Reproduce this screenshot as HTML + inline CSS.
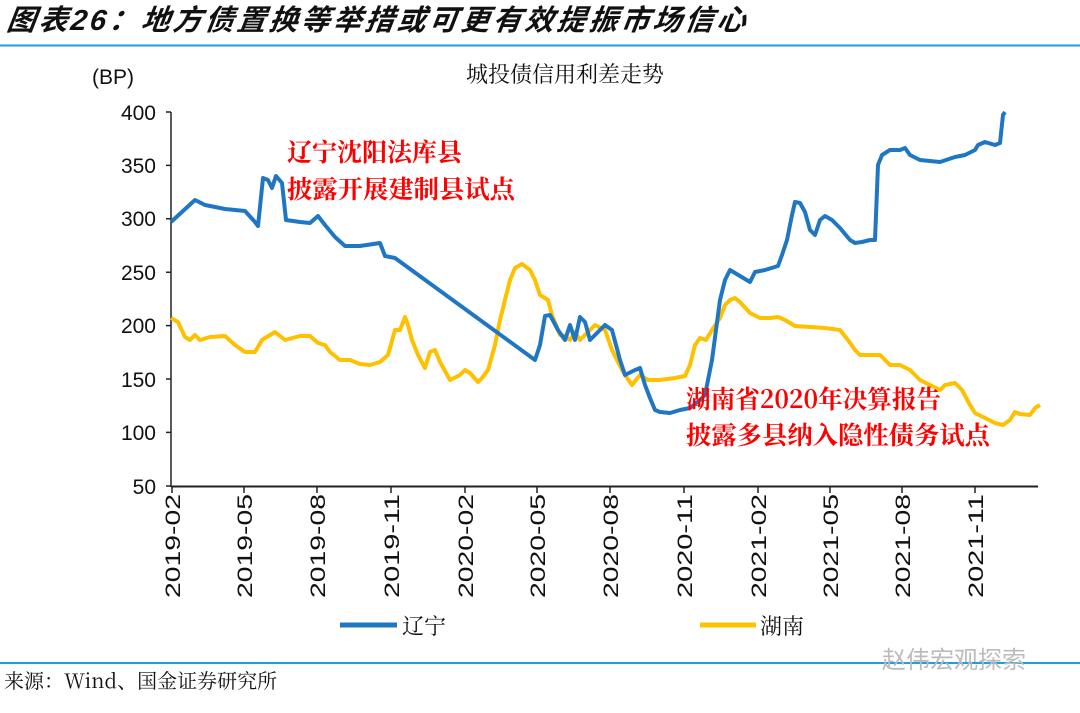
<!DOCTYPE html>
<html><head><meta charset="utf-8"><style>
body{margin:0;background:#fff;width:1080px;height:708px;overflow:hidden;}
svg text{font-family:"Liberation Sans","Noto Sans CJK SC",sans-serif;}
.s{font-family:"Noto Serif CJK SC","Liberation Serif",serif !important;}
</style></head><body>
<svg width="1080" height="708" viewBox="0 0 1080 708">
<text x="6" y="30" font-size="29" font-weight="bold" font-style="italic" fill="#111" letter-spacing="3" transform="skewX(-8) translate(4,0)">图表26：地方债置换等举措或可更有效提振市场信心</text>
<line x1="0" y1="45.5" x2="1080" y2="45.5" stroke="#1e9fdc" stroke-width="2"/>
<text x="92" y="84" font-size="21" fill="#111">(BP)</text>
<text class="s" x="565" y="82" font-size="22" fill="#111" text-anchor="middle">城投债信用利差走势</text>
<g font-size="21" fill="#111" text-anchor="end">
<text x="156" y="120">400</text><text x="156" y="173">350</text><text x="156" y="226">300</text><text x="156" y="280">250</text><text x="156" y="333">200</text><text x="156" y="387">150</text><text x="156" y="440">100</text><text x="156" y="494">50</text>
</g>
<g stroke="#222" stroke-width="1.5">
<line x1="171" y1="112" x2="171" y2="487"/>
<line x1="171" y1="486.5" x2="1038" y2="486.5" stroke-width="2"/>
<path d="M166 112H171M166 165.4H171M166 218.8H171M166 272.2H171M166 325.6H171M166 379H171M166 432.4H171M166 486H171"/>
<path d="M172 487v6M244 487v6M317 487v6M391 487v6M465 487v6M537 487v6M610 487v6M684 487v6M758 487v6M830 487v6M902 487v6M975 487v6"/>
</g>
<g font-size="21" fill="#111">
<text transform="translate(180,598) rotate(-90)" textLength="104" lengthAdjust="spacingAndGlyphs">2019-02</text>
<text transform="translate(252,598) rotate(-90)" textLength="104" lengthAdjust="spacingAndGlyphs">2019-05</text>
<text transform="translate(325,598) rotate(-90)" textLength="104" lengthAdjust="spacingAndGlyphs">2019-08</text>
<text transform="translate(399,598) rotate(-90)" textLength="104" lengthAdjust="spacingAndGlyphs">2019-11</text>
<text transform="translate(473,598) rotate(-90)" textLength="104" lengthAdjust="spacingAndGlyphs">2020-02</text>
<text transform="translate(545,598) rotate(-90)" textLength="104" lengthAdjust="spacingAndGlyphs">2020-05</text>
<text transform="translate(618,598) rotate(-90)" textLength="104" lengthAdjust="spacingAndGlyphs">2020-08</text>
<text transform="translate(692,598) rotate(-90)" textLength="104" lengthAdjust="spacingAndGlyphs">2020-11</text>
<text transform="translate(766,598) rotate(-90)" textLength="104" lengthAdjust="spacingAndGlyphs">2021-02</text>
<text transform="translate(838,598) rotate(-90)" textLength="104" lengthAdjust="spacingAndGlyphs">2021-05</text>
<text transform="translate(910,598) rotate(-90)" textLength="104" lengthAdjust="spacingAndGlyphs">2021-08</text>
<text transform="translate(983,598) rotate(-90)" textLength="104" lengthAdjust="spacingAndGlyphs">2021-11</text>
</g>
<polyline fill="none" stroke="#ffc000" stroke-width="4" stroke-linejoin="round" points="171,318 178,322 185,337 190,340 195,335 200,340 210,337 225,336 235,345 245,352 255,352 262,340 275,332 285,340 300,336 310,336 318,343 325,345 330,352 340,360 350,360 360,364 370,365 380,362 388,355 395,330 400,330 405,317 408,325 412,340 418,355 425,368 430,352 435,350 440,362 450,380 460,375 465,370 470,373 478,382 482,378 488,370 495,345 500,320 505,300 510,280 515,268 522,264 530,270 535,280 540,295 548,300 552,315 560,335 565,336 570,340 575,332 580,340 590,330 595,325 605,330 612,350 618,362 625,375 632,385 640,375 648,380 660,380 675,378 685,376 690,365 695,345 700,338 706,340 712,330 720,318 725,305 730,300 735,298 740,302 750,313 760,318 770,318 778,317 785,320 795,326 810,327 825,328 840,330 848,340 855,350 860,355 880,355 885,360 890,365 900,365 910,370 920,380 930,385 940,390 945,385 955,383 962,390 970,405 975,413 985,418 995,423 1003,425 1010,420 1015,412 1020,414 1030,415 1035,408 1040,405"/>
<polyline fill="none" stroke="#1f77c4" stroke-width="4" stroke-linejoin="round" points="171,222 195,200 205,205 225,209 245,211 255,222 258,226 263,178 268,180 272,188 276,176 282,183 286,220 300,222 310,223 318,216 325,225 335,237 345,246 360,246 380,243 385,256 395,258 535,360 540,345 545,316 550,315 558,330 565,340 570,325 575,340 580,317 585,322 590,340 600,330 605,325 612,330 620,360 625,375 635,370 640,368 645,385 650,398 655,410 660,412 670,413 680,410 690,408 700,400 705,395 712,360 720,300 725,280 730,270 740,276 750,282 755,272 765,270 778,266 782,255 787,240 792,215 795,202 800,203 805,212 810,230 815,235 820,220 825,216 832,220 840,228 850,240 855,243 862,242 870,240 875,240 878,165 882,155 890,150 900,150 905,148 910,155 920,160 940,162 955,157 965,155 975,150 978,145 985,142 995,145 1000,143 1003,115 1005,112"/>
<g font-size="25" fill="#ff0000" font-weight="bold">
<text class="s" x="287" y="161" textLength="175" lengthAdjust="spacingAndGlyphs">辽宁沈阳法库县</text>
<text class="s" x="287" y="198" textLength="228" lengthAdjust="spacingAndGlyphs">披露开展建制县试点</text>
<text class="s" x="686" y="408" textLength="255" lengthAdjust="spacingAndGlyphs">湖南省2020年决算报告</text>
<text class="s" x="686" y="444" textLength="304" lengthAdjust="spacingAndGlyphs">披露多县纳入隐性债务试点</text>
</g>
<line x1="340" y1="625" x2="397" y2="625" stroke="#1f77c4" stroke-width="5"/>
<text class="s" x="402" y="634" font-size="22" fill="#111">辽宁</text>
<line x1="700" y1="625" x2="756" y2="625" stroke="#ffc000" stroke-width="5"/>
<text class="s" x="760" y="634" font-size="22" fill="#111">湖南</text>
<line x1="0" y1="663" x2="1080" y2="663" stroke="#1e9fdc" stroke-width="2"/>
<text x="882" y="668" font-size="24" fill="#bbb">赵伟宏观探索</text>
<text class="s" x="4" y="688" font-size="20" fill="#111">来源：Wind、国金证券研究所</text>
</svg>
</body></html>
